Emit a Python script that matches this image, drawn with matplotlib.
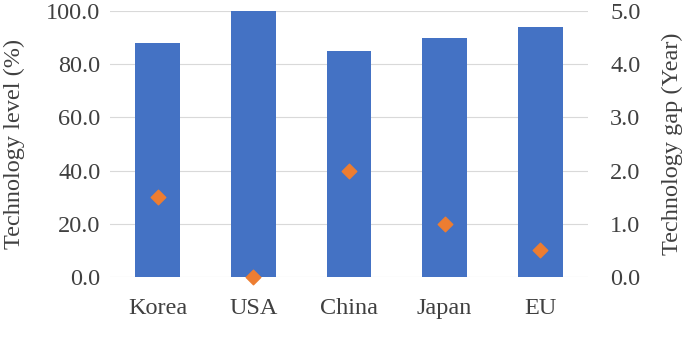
import matplotlib.pyplot as plt
import numpy as np

# --- DATA ---
countries = ['Korea', 'USA', 'China', 'Japan', 'EU']
tech_level = [87.8, 100.0, 85.0, 90.0, 94.0]   # %
tech_gap = [1.5, 0.0, 2.0, 1.0, 0.5]           # years

left_ticks = [0, 20, 40, 60, 80, 100]
right_ticks = [0, 1, 2, 3, 4, 5]

plt.rcParams['font.family'] = ['Liberation Serif', 'DejaVu Serif']
FS = 17.5
TXT = '#404040'

fig = plt.figure(figsize=(6.93, 3.48), dpi=100)
ax = fig.add_axes([110 / 693, 1 - 277 / 348, 478 / 693, 266 / 348])

x = np.arange(len(countries))
ax.bar(x, tech_level, width=0.47, color='#4472C4', zorder=2)
ax.set_xlim(-0.5, len(countries) - 0.5)
ax.set_ylim(0, 100)
ax.set_yticks(left_ticks)
ax.set_yticklabels([f'{v:.1f}' for v in left_ticks])
ax.set_xticks(x)
ax.set_xticklabels(countries)
ax.yaxis.grid(True, color='#d9d9d9', linewidth=0.8, zorder=0)
ax.set_axisbelow(True)
ax.tick_params(axis='both', length=0, labelsize=FS, colors=TXT)
ax.tick_params(axis='y', pad=7)
ax.tick_params(axis='x', pad=15)
for s in ax.spines.values():
    s.set_visible(False)
ax.set_ylabel('Technology level (%)', fontsize=FS, color=TXT)
ax.yaxis.set_label_coords(-0.178, 0.5)

ax2 = ax.twinx()
ax2.scatter(x, tech_gap, marker='D', s=55, color='#ED7D31', zorder=3, clip_on=False)
ax2.set_ylim(0, 5)
ax2.set_yticks(right_ticks)
ax2.set_yticklabels([f'{v:.1f}' for v in right_ticks])
ax2.tick_params(axis='y', length=0, labelsize=FS, colors=TXT, pad=16)
for s in ax2.spines.values():
    s.set_visible(False)
ax2.set_ylabel('Technology gap (Year)', fontsize=FS, color=TXT)
ax2.yaxis.set_label_coords(1.155, 0.5)

fig.savefig('out.png', dpi=100)
